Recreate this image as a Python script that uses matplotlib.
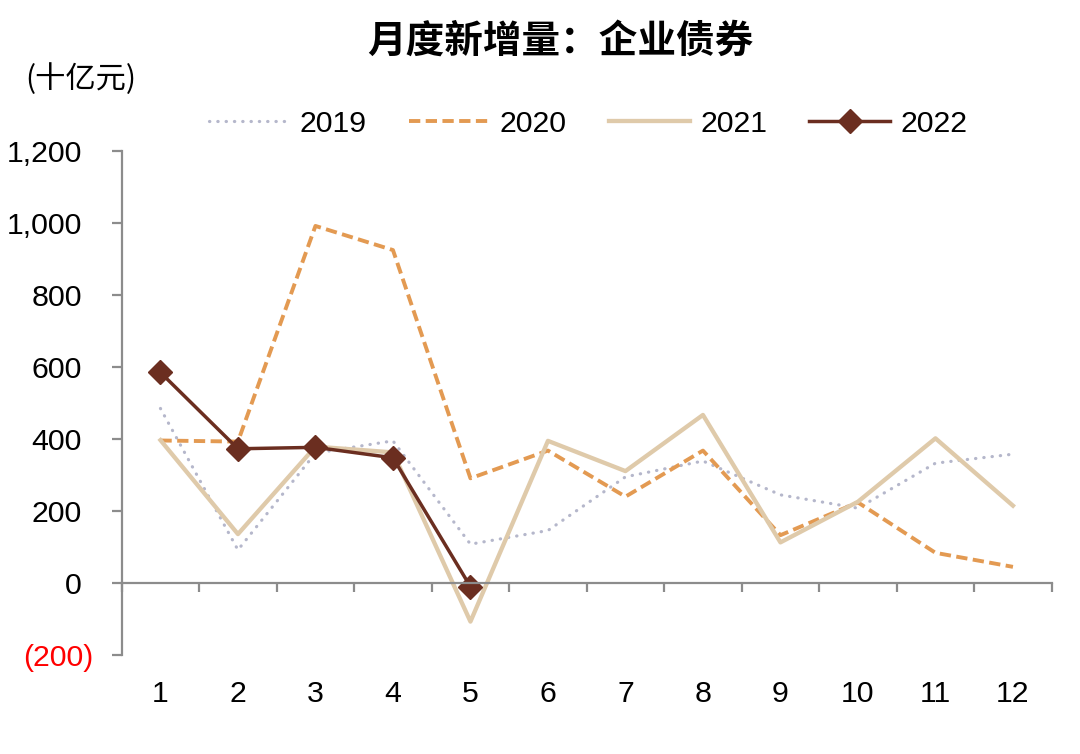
import matplotlib
matplotlib.use("Agg")
import matplotlib.pyplot as plt
from matplotlib.transforms import ScaledTranslation
from matplotlib.ticker import FixedLocator

plt.rcParams['font.family'] = ['Liberation Sans', 'Noto Sans CJK SC', 'DejaVu Sans']

months = list(range(1, 13))
month_labels = [str(m) for m in months]
series_names = ['2019', '2020', '2021', '2022']
v2019 = [484, 91, 360, 394, 107, 145, 294, 338, 244, 207, 332, 357]
v2020 = [395, 392, 991, 924, 290, 367, 239, 367, 132, 223, 83, 44]
v2021 = [396, 135, 378, 362, -108, 394, 310, 466, 112, 225, 401, 214]
v2022 = [584, 372, 376, 347, -11]
yticks = [-200, 0, 200, 400, 600, 800, 1000, 1200]
ytick_labels = ['(200)', '0', '200', '400', '600', '800', '1,000', '1,200']
title = '月度新增量：企业债券'
unit = '(十亿元)'

W, H = 1080, 754
fig = plt.figure(figsize=(W / 100, H / 100), dpi=100)
ax = fig.add_axes([121.7 / W, 1 - 654.7 / H, 930 / W, 504 / H])

FS = 21.8
gray = '#8C8C8C'

ax.plot(months, v2019, color='#B5B7CB', lw=2.3, linestyle=(0, (0.1, 2.5)),
        dash_capstyle='round', label=series_names[0])
ax.plot(months, v2020, color='#E39A52', lw=2.8, linestyle=(0, (2.9, 1.4)),
        label=series_names[1])
ax.plot(months, v2021, color='#DFCAAA', lw=3.1, label=series_names[2])
ax.plot(months[:len(v2022)], v2022, color='#6B2E20', lw=2.5, marker='D',
        markersize=12.5, label=series_names[3])

ax.set_xlim(0.5, 12.5)
ax.set_ylim(-200, 1200)

for s in ['top', 'right']:
    ax.spines[s].set_visible(False)
ax.spines['bottom'].set_position(('data', 0))
for s in ['left', 'bottom']:
    ax.spines[s].set_color(gray)
    ax.spines[s].set_linewidth(1.6)

ax.set_yticks(yticks)
ax.set_yticklabels(ytick_labels)
ax.tick_params(axis='y', direction='out', length=7, width=1.6, color=gray,
               pad=21.5, labelsize=FS)
for lab in ax.get_yticklabels():
    if lab.get_text().startswith('('):
        lab.set_color('#FF0000')
        lab.set_transform(lab.get_transform() + ScaledTranslation(11 / 100, 0, fig.dpi_scale_trans))

ax.set_xticks(months)
ax.set_xticklabels(month_labels)
ax.xaxis.set_minor_locator(FixedLocator([m - 0.5 for m in months] + [12.5]))
ax.tick_params(axis='x', which='major', length=0, pad=70, labelsize=FS)
ax.tick_params(axis='x', which='minor', direction='out', length=6.5, width=1.6, color=gray)

fig.text(560 / W, 1 - 41 / H, title, ha='center', va='center', fontsize=27.8,
         fontweight='bold', family=['Noto Sans CJK SC'])
fig.text(25 / W, 1 - 79 / H, unit, ha='left', va='center', fontsize=FS,
         family=['Noto Sans CJK SC'])

fig.legend(loc='center', bbox_to_anchor=(588 / W, 1 - 124 / H), ncol=4, frameon=False,
           fontsize=FS, handlelength=2.67, handletextpad=0.33, columnspacing=1.4,
           borderpad=0, borderaxespad=0)

fig.savefig('out.png', dpi=100)
